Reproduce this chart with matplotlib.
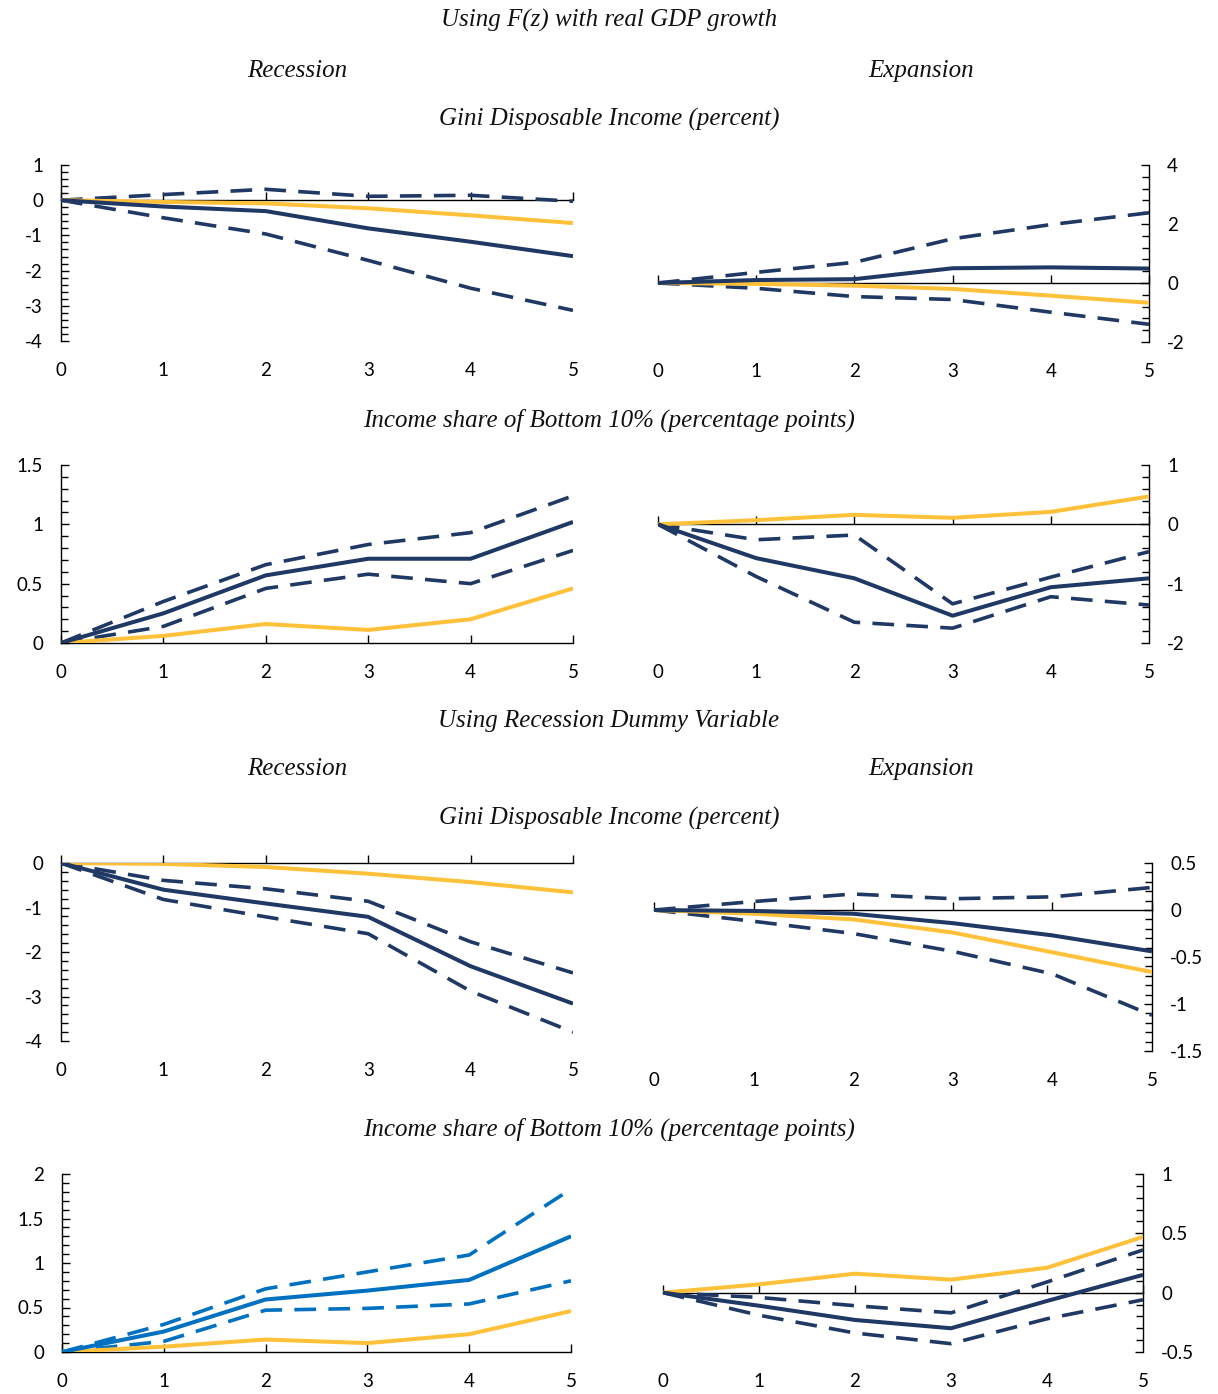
import matplotlib
matplotlib.use("Agg")
import matplotlib.pyplot as plt
from matplotlib.ticker import MultipleLocator, FuncFormatter

# ---------------- data ----------------
horizons = [0, 1, 2, 3, 4, 5]

# Using F(z) with real GDP growth
fz_rec_gini_est = [0, -0.18, -0.31, -0.80, -1.18, -1.59]
fz_rec_gini_up = [0, 0.16, 0.31, 0.11, 0.14, -0.03]
fz_rec_gini_lo = [0, -0.50, -0.96, -1.71, -2.50, -3.13]
fz_rec_gini_lin = [0, -0.05, -0.09, -0.23, -0.43, -0.65]

fz_exp_gini_est = [0, 0.10, 0.13, 0.50, 0.53, 0.49]
fz_exp_gini_up = [0, 0.36, 0.70, 1.50, 1.98, 2.38]
fz_exp_gini_lo = [0, -0.18, -0.46, -0.56, -0.99, -1.40]
fz_exp_gini_lin = [0, -0.03, -0.09, -0.20, -0.43, -0.67]

fz_rec_b10_est = [0, 0.25, 0.57, 0.71, 0.71, 1.02]
fz_rec_b10_up = [0, 0.35, 0.66, 0.83, 0.93, 1.24]
fz_rec_b10_lo = [0, 0.14, 0.46, 0.58, 0.50, 0.78]
fz_rec_b10_lin = [0, 0.06, 0.16, 0.11, 0.20, 0.46]

fz_exp_b10_est = [0, -0.57, -0.91, -1.54, -1.06, -0.91]
fz_exp_b10_up = [0, -0.26, -0.18, -1.34, -0.89, -0.46]
fz_exp_b10_lo = [0, -0.88, -1.65, -1.75, -1.22, -1.36]
fz_exp_b10_lin = [0, 0.07, 0.16, 0.11, 0.21, 0.47]

# Using Recession Dummy Variable
rd_rec_gini_est = [0, -0.60, -0.91, -1.21, -2.32, -3.16]
rd_rec_gini_up = [0, -0.39, -0.58, -0.86, -1.77, -2.47]
rd_rec_gini_lo = [0, -0.82, -1.21, -1.59, -2.88, -3.80]
rd_rec_gini_lin = [0, -0.02, -0.09, -0.24, -0.43, -0.66]

rd_exp_gini_est = [0, -0.01, -0.04, -0.14, -0.27, -0.44]
rd_exp_gini_up = [0, 0.09, 0.17, 0.12, 0.14, 0.24]
rd_exp_gini_lo = [0, -0.12, -0.25, -0.44, -0.68, -1.12]
rd_exp_gini_lin = [0, -0.04, -0.10, -0.24, -0.45, -0.66]

rd_rec_b10_est = [0, 0.23, 0.59, 0.69, 0.81, 1.30]
rd_rec_b10_up = [0, 0.31, 0.71, 0.90, 1.09, 1.83]
rd_rec_b10_lo = [0, 0.12, 0.47, 0.49, 0.54, 0.80]
rd_rec_b10_lin = [0, 0.06, 0.14, 0.10, 0.20, 0.46]

rd_exp_b10_est = [0, -0.11, -0.23, -0.30, -0.07, 0.15]
rd_exp_b10_up = [0, -0.04, -0.11, -0.17, 0.09, 0.36]
rd_exp_b10_lo = [0, -0.19, -0.34, -0.43, -0.22, -0.06]
rd_exp_b10_lin = [0, 0.07, 0.16, 0.11, 0.21, 0.47]

section_titles = ["Using F(z) with real GDP growth", "Using Recession Dummy Variable"]
regime_titles = ["Recession", "Expansion"]
var_titles = ["Gini Disposable Income (percent)",
              "Income share of Bottom 10% (percentage points)"]

# ---------------- style ----------------
W, H = 1218, 1394
NAVY = "#1F3864"
BLUE = "#0070C0"
ORANGE = "#FFC03A"
TITLE_FONT = dict(family="Liberation Serif", style="italic", size=18, color="#111111")
TICK_FONT = "Lato"
TICK_SIZE = 13.5

fig = plt.figure(figsize=(W / 100, H / 100), dpi=100)


def rect(l, r, t, b):
    return [l / W, 1 - b / H, (r - l) / W, (b - t) / H]


panels = [
    (rect(61, 573, 165, 341), "left", (-4, 1), 1,
     fz_rec_gini_est, fz_rec_gini_up, fz_rec_gini_lo, fz_rec_gini_lin, NAVY),
    (rect(658, 1149, 165, 342), "right", (-2, 4), 2,
     fz_exp_gini_est, fz_exp_gini_up, fz_exp_gini_lo, fz_exp_gini_lin, NAVY),
    (rect(61, 573, 465, 643), "left", (0, 1.5), 0.5,
     fz_rec_b10_est, fz_rec_b10_up, fz_rec_b10_lo, fz_rec_b10_lin, NAVY),
    (rect(658, 1149, 465, 643), "right", (-2, 1), 1,
     fz_exp_b10_est, fz_exp_b10_up, fz_exp_b10_lo, fz_exp_b10_lin, NAVY),
    (rect(61, 573, 863, 1041), "left", (-4, 0), 1,
     rd_rec_gini_est, rd_rec_gini_up, rd_rec_gini_lo, rd_rec_gini_lin, NAVY),
    (rect(654, 1152, 863, 1051), "right", (-1.5, 0.5), 0.5,
     rd_exp_gini_est, rd_exp_gini_up, rd_exp_gini_lo, rd_exp_gini_lin, NAVY),
    (rect(62, 571, 1174, 1352), "left", (0, 2), 0.5,
     rd_rec_b10_est, rd_rec_b10_up, rd_rec_b10_lo, rd_rec_b10_lin, BLUE),
    (rect(663, 1143, 1174, 1352), "right", (-0.5, 1), 0.5,
     rd_exp_b10_est, rd_exp_b10_up, rd_exp_b10_lo, rd_exp_b10_lin, NAVY),
]

fmt = FuncFormatter(lambda v, p: f"{v:g}")

for pos, side, ylim, step, est, up, lo, lin, col in panels:
    ax = fig.add_axes(pos)
    ax.set_xlim(0, 5)
    ax.set_ylim(*ylim)
    ax.patch.set_alpha(0)
    for s in ["top", "left", "right"]:
        ax.spines[s].set_visible(False)
    ax.spines[side].set_visible(True)
    ax.spines[side].set_linewidth(1.0)
    ax.spines["bottom"].set_position(("data", 0))
    ax.spines["bottom"].set_linewidth(1.0)

    dash = dict(dashes=(6.0, 3.4), dash_capstyle="butt")
    ax.plot(horizons, up, color=col, lw=2.6, **dash, zorder=3)
    ax.plot(horizons, lo, color=col, lw=2.6, **dash, zorder=3)
    ax.plot(horizons, lin, color=ORANGE, lw=2.9, zorder=4, solid_capstyle="butt")
    ax.plot(horizons, est, color=col, lw=2.9, zorder=5, solid_capstyle="butt")

    ax.xaxis.set_major_locator(MultipleLocator(1))
    ax.tick_params(axis="x", which="both", direction="in", length=6, width=1.0,
                   labelbottom=False, bottom=True, top=False)
    ax.yaxis.set_major_locator(MultipleLocator(step))
    ax.yaxis.set_minor_locator(MultipleLocator(step / 5))
    ax.yaxis.set_major_formatter(fmt)
    if side == "left":
        ax.tick_params(axis="y", which="both", left=True, right=False,
                       labelleft=True, labelright=False, direction="in")
    else:
        ax.yaxis.set_ticks_position("right")
        ax.tick_params(axis="y", which="both", left=False, right=True,
                       labelleft=False, labelright=True, direction="in")
    ax.tick_params(axis="y", which="major", length=6, width=1.0, pad=13,
                   labelsize=TICK_SIZE)
    ax.tick_params(axis="y", which="minor", length=5, width=1.0)
    for lab in ax.get_yticklabels():
        lab.set_fontfamily(TICK_FONT)

    sec = ax.secondary_xaxis(0)
    sec.set_xticks(horizons)
    sec.xaxis.set_major_formatter(fmt)
    sec.spines["bottom"].set_visible(False)
    sec.tick_params(axis="x", length=0, pad=15, labelsize=TICK_SIZE)
    for lab in sec.get_xticklabels():
        lab.set_fontfamily(TICK_FONT)

# ---------------- titles ----------------
def ftext(x, y, s):
    fig.text(x / W, 1 - y / H, s, ha="center", va="center", **TITLE_FONT)

ftext(609, 20, section_titles[0])
ftext(297, 71, regime_titles[0])
ftext(921, 71, regime_titles[1])
ftext(609, 119, var_titles[0])
ftext(609, 420, var_titles[1])
ftext(609, 721, section_titles[1])
ftext(297, 769, regime_titles[0])
ftext(921, 769, regime_titles[1])
ftext(609, 818, var_titles[0])
ftext(609, 1129, var_titles[1])

fig.savefig("out.png", dpi=100)
